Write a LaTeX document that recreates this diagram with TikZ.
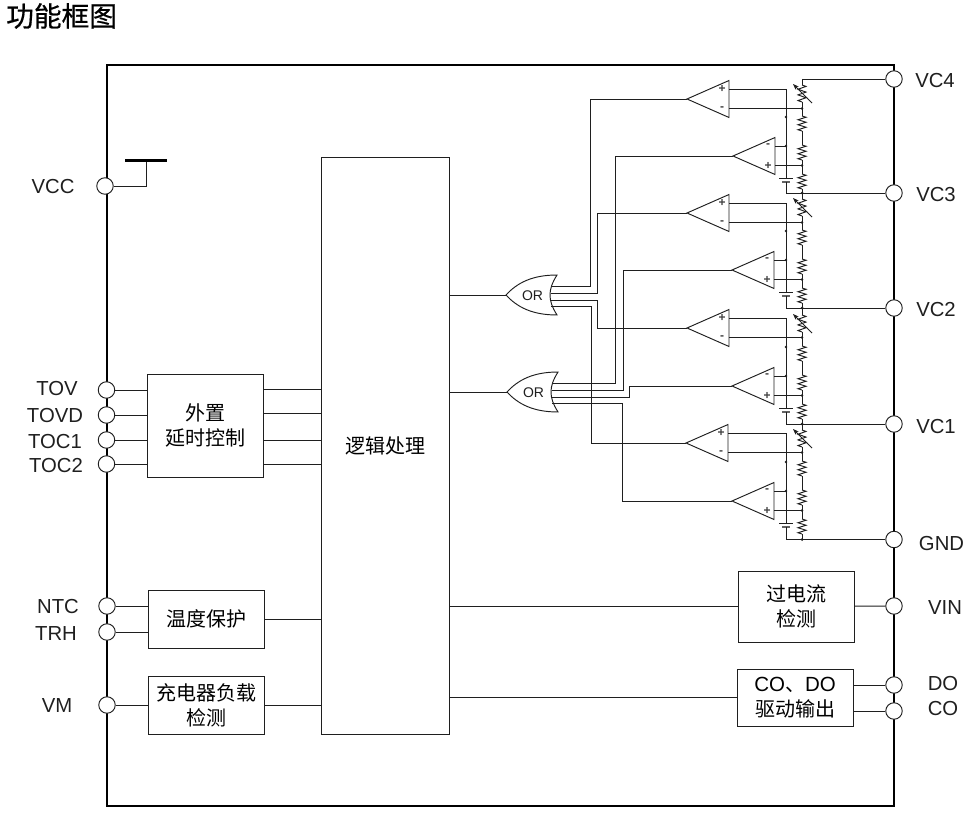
\documentclass[tikz,border=0pt]{standalone}
\usepackage{fontspec}
\setmainfont{Liberation Sans}
\newfontfamily\cjk{Noto Sans CJK SC}
\newfontfamily\cjkhead[FakeBold=0.6]{Noto Sans CJK SC}
\usetikzlibrary{arrows.meta,calc}
\definecolor{ink}{gray}{0.12}
\tikzset{
  wire/.style={draw=ink,line width=0.95pt},
  block/.style={draw=ink,line width=1pt,fill=white,inner sep=0pt,align=center,
    font=\cjk\fontsize{20}{25}\selectfont},
  pin/.style={circle,draw=ink,line width=0.95pt,fill=white,minimum size=16.5pt,inner sep=0pt},
  pinlabel/.style={inner sep=0pt,font=\fontsize{20.3}{22}\selectfont,text=ink},
  sign/.style={inner sep=0pt,font=\bfseries\fontsize{12}{12}\selectfont,text=ink!85},
  joint/.style={fill=ink,draw=none}
}
% Zigzag resistor on the ladder axis: start offset, vertical scale
\newcommand\zigres[2]{\draw[wire,shift={(0,#1)},yscale=#2]
  (0,0)--(4,1.25)--(-4,3.75)--(4,6.25)--(-4,8.75)--(4,11.25)--(-4,13.75)--(0,15);}
% Comparator with the tip at (#2,#3); #4 and #5 are the upper and lower input signs
\newcommand\comparator[5]{
  \begin{scope}[shift={(#2,#3)}]
    \coordinate (#1-tip) at (0,0);
    \coordinate (#1-ut) at (42,-18.5);
    \coordinate (#1-lt) at (42,18.5);
    \coordinate (#1-a) at (42,-10);
    \coordinate (#1-b) at (42,9.5);
    \draw[wire] (#1-tip) -- (#1-ut) -- (#1-lt) -- cycle;
    \node[sign] (#1-sa) at (35,-10) {#4};
    \node[sign] (#1-sb) at (35,10) {#5};
  \end{scope}
}
% One ladder section: id, top y, height, upper comparator, lower comparator
\newcommand\ladder[5]{
  \begin{scope}[shift={(802,#2)}]
    \coordinate (#1-top) at (0,0);
    \coordinate (#1-bot) at (0,#3);
    \coordinate (#1-rail) at (-16,99);
    \draw[wire] (0,0)--(0,6) (0,23)--(0,37) (0,52)--(0,66) (0,81)--(0,95) (0,110)--(#1-bot);
    \zigres{6}{1.133}
    \zigres{37}{1}
    \zigres{66}{1}
    \zigres{95}{1}
    \draw[-{Stealth[length=6pt,width=4.5pt]},line width=0.8pt,draw=ink] (10,24) -- (-9,5);
    % reference rail with its cell symbol
    \draw[wire] (#4-a) -| (#1-rail);
    \draw[wire] (-23,99) -- (-9,99);
    \draw[line width=1.3pt,draw=ink!70] (-20,103) -- (-12,103);
    \draw[wire] (-16,103) -- (-16,#3) -- (#1-bot);
    \draw[wire] (#4-b) -- (#4-b -| #1-top);
    \draw[wire] (#5-a) -- (#5-a -| #1-rail);
    \draw[wire] (#5-b) -- (#5-b -| #1-top);
    \fill[joint] (#4-b -| #1-top) circle (1.3);
    \fill[joint] (#5-a -| #1-rail) circle (1.3);
    \fill[joint] (#5-b -| #1-top) circle (1.3);
    \fill[joint] (-16,38) circle (1.3);
    \fill[joint] (#1-bot) circle (1.5);
  \end{scope}
}
% OR gate with the input tip at (#2,#3)
\newcommand\orgate[3]{
  \begin{scope}[shift={(#2,#3)}]
    \coordinate (#1-in) at (0,0);
    \draw[wire,fill=white] (0,0) .. controls (11,-12) and (26,-20) .. (51,-20)
      .. controls (46,-12) and (44,-6) .. (44,0)
      .. controls (44,6) and (46,12) .. (51,20)
      .. controls (26,20) and (11,12) .. (0,0) -- cycle;
    \node[inner sep=0pt,font=\fontsize{14}{14}\selectfont,text=ink] (#1-text) at (26.5,0.5) {OR};
    \coordinate (#1-o1) at (45,-8.5);
    \coordinate (#1-o2) at (45,-2);
    \coordinate (#1-o3) at (45,5);
    \coordinate (#1-o4) at (45,11);
  \end{scope}
}
\begin{document}
\begin{tikzpicture}[x=1pt,y=-1pt]
\useasboundingbox (0,0) rectangle (969,818);

\node[anchor=west,inner sep=0pt,font=\cjkhead\fontsize{27.7}{30}\selectfont,text=black] (title) at (6,16) {功能框图};

% package outline
\node[draw=black,line width=2.2pt,minimum width=787pt,minimum height=741pt,inner sep=0pt] (chip) at (500.5,435.5) {};

% functional blocks
\node[block,minimum width=128pt,minimum height=577pt] (logic) at (385.5,446) {逻辑处理};
\node[block,minimum width=116pt,minimum height=103pt] (ext) at (205,425.5) {外置\\延时控制};
\node[block,minimum width=116pt,minimum height=58pt] (temp) at (206,619) {温度保护};
\node[block,minimum width=116pt,minimum height=58pt] (charger) at (206,705) {充电器负载\\检测};
\node[block,minimum width=116pt,minimum height=71pt] (ocp) at (796,606.5) {过电流\\检测};
\node[block,minimum width=116pt,minimum height=57pt] (drv) at (795,697.5) {{\rmfamily\fontsize{20.5}{25}\selectfont CO}、{\rmfamily\fontsize{20.5}{25}\selectfont DO}\\驱动输出};

% pins, left side
\node[pin] (pVCC) at (105,186) {};
\node[pin] (pTOV) at (106.5,390) {};
\node[pin] (pTOVD) at (106.5,415) {};
\node[pin] (pTOCa) at (106.5,440) {};
\node[pin] (pTOCb) at (106.5,464) {};
\node[pin] (pNTC) at (107,606) {};
\node[pin] (pTRH) at (107,632) {};
\node[pin] (pVM) at (107,705) {};
% pins, right side
\node[pin] (pVCd) at (894,79) {};
\node[pin] (pVCc) at (894,193) {};
\node[pin] (pVCb) at (894,308) {};
\node[pin] (pVCa) at (894,424) {};
\node[pin] (pGND) at (894,539.5) {};
\node[pin] (pVIN) at (894,606) {};
\node[pin] (pDO) at (894,685) {};
\node[pin] (pCO) at (894,711) {};

% pin names
\node[pinlabel] (lVCC) at (53,187) {VCC};
\node[pinlabel] (lTOV) at (57,389) {TOV};
\node[pinlabel] (lTOVD) at (55,415.5) {TOVD};
\node[pinlabel] (lTOCa) at (55,441.5) {TOC1};
\node[pinlabel] (lTOCb) at (56,465.5) {TOC2};
\node[pinlabel] (lNTC) at (58,606.5) {NTC};
\node[pinlabel] (lTRH) at (56,633.5) {TRH};
\node[pinlabel] (lVM) at (57,706) {VM};
\node[pinlabel] (lVCd) at (935,80.5) {VC4};
\node[pinlabel] (lVCc) at (936,194.5) {VC3};
\node[pinlabel] (lVCb) at (936,309.5) {VC2};
\node[pinlabel] (lVCa) at (936,426.5) {VC1};
\node[pinlabel] (lGND) at (941.5,543.5) {GND};
\node[pinlabel] (lVIN) at (945,607.5) {VIN};
\node[pinlabel] (lDO) at (943,683.5) {DO};
\node[pinlabel] (lCO) at (943,708.5) {CO};

% supply stub
\coordinate (vccbar) at (146,160.5);
\draw[wire] (pVCC) -| (vccbar);
\draw[draw=black,line width=2.3pt] (125,160.5) -- (167,160.5);

% left-hand connections
\draw[wire] (pTOV) -- (pTOV -| ext.west);
\draw[wire] (pTOVD) -- (pTOVD -| ext.west);
\draw[wire] (pTOCa) -- (pTOCa -| ext.west);
\draw[wire] (pTOCb) -- (pTOCb -| ext.west);
\foreach \y in {389,413,440,464}
  \draw[wire] (ext.east |- 0,\y) -- (logic.west |- 0,\y);
\draw[wire] (pNTC) -- (pNTC -| temp.west);
\draw[wire] (pTRH) -- (pTRH -| temp.west);
\draw[wire] (temp) -- (logic.west |- temp);
\draw[wire] (pVM) -- (charger);
\draw[wire] (charger) -- (logic.west |- charger);

% right-hand connections
\draw[wire] (logic.east |- ocp) -- (ocp);
\draw[wire] (ocp) -- (pVIN);
\draw[wire] (logic.east |- drv) -- (drv);
\draw[wire] (pDO) -- (pDO -| drv.east);
\draw[wire] (pCO) -- (pCO -| drv.east);

% comparators
\comparator{opa}{687}{99}{+}{-}
\comparator{opb}{733}{156}{-}{+}
\comparator{opc}{687}{213}{+}{-}
\comparator{opd}{732}{270}{-}{+}
\comparator{ope}{687}{328}{+}{-}
\comparator{opf}{732}{386}{-}{+}
\comparator{opg}{686}{443}{+}{-}
\comparator{oph}{732}{501}{-}{+}

% sense ladder sections
\ladder{la}{79}{114}{opa}{opb}
\ladder{lb}{193}{115}{opc}{opd}
\ladder{lc}{309}{115}{ope}{opf}
\ladder{ld}{424}{115.5}{opg}{oph}

\draw[wire] (la-top) -- (pVCd);
\draw[wire] (la-bot) -- (pVCc);
\draw[wire] (lb-bot) -- (pVCb);
\draw[wire] (lc-bot) -- (pVCa);
\draw[wire] (ld-bot) -- (pGND);

% OR gates and their inputs from the comparators
\orgate{ora}{506}{295}
\orgate{orb}{507}{392}
\draw[wire] (logic.east |- ora-in) -- (ora-in);
\draw[wire] (logic.east |- orb-in) -- (orb-in);

\draw[wire] (ora-o1) -- ++(39,0) |- (opa-tip);
\draw[wire] (ora-o2) -- ++(46,0) |- (opc-tip);
\draw[wire] (ora-o3) -- ++(46,0) |- (ope-tip);
\draw[wire] (ora-o4) -- ++(40,0) |- (opg-tip);
\draw[wire] (orb-o1) -- ++(63,0) |- (opb-tip);
\draw[wire] (orb-o2) -- ++(71,0) |- (opd-tip);
\draw[wire] (orb-o3) -- ++(77,0) |- (opf-tip);
\draw[wire] (orb-o4) -- ++(70,0) |- (oph-tip);
\end{tikzpicture}
\end{document}
